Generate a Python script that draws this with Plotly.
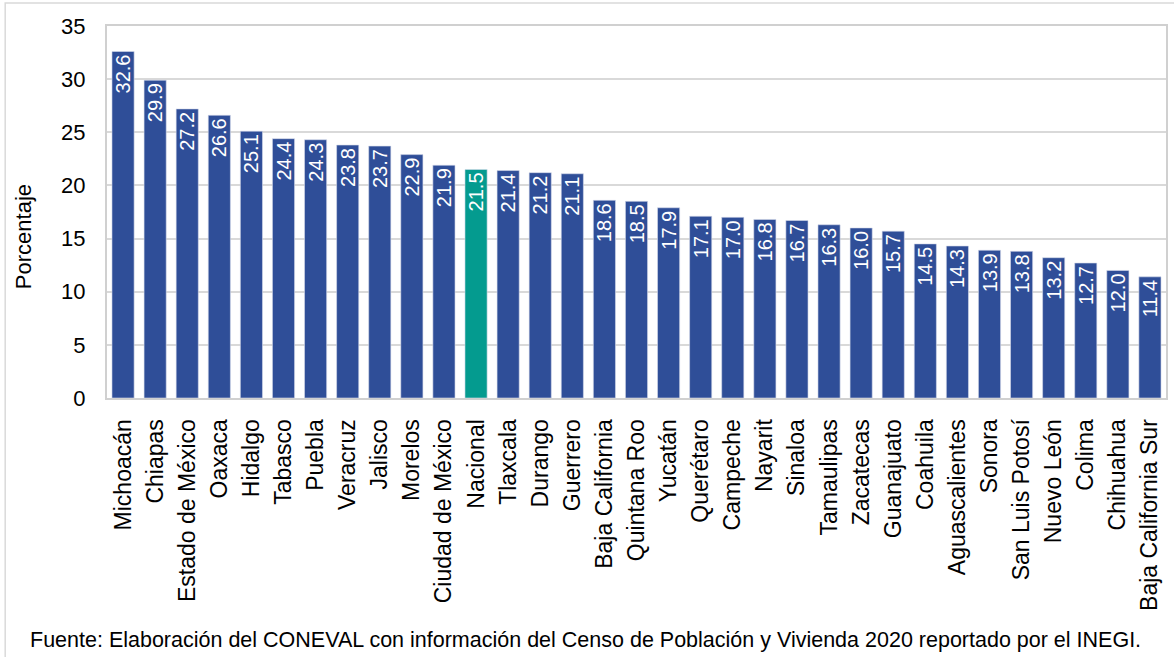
import plotly.graph_objects as go

categorias = ["Michoacán", "Chiapas", "Estado de México", "Oaxaca", "Hidalgo", "Tabasco",
              "Puebla", "Veracruz", "Jalisco", "Morelos", "Ciudad de México", "Nacional",
              "Tlaxcala", "Durango", "Guerrero", "Baja California", "Quintana Roo", "Yucatán",
              "Querétaro", "Campeche", "Nayarit", "Sinaloa", "Tamaulipas", "Zacatecas",
              "Guanajuato", "Coahuila", "Aguascalientes", "Sonora", "San Luis Potosí",
              "Nuevo León", "Colima", "Chihuahua", "Baja California Sur"]
valores = [32.6, 29.9, 27.2, 26.6, 25.1, 24.4, 24.3, 23.8, 23.7, 22.9, 21.9, 21.5,
           21.4, 21.2, 21.1, 18.6, 18.5, 17.9, 17.1, 17.0, 16.8, 16.7, 16.3, 16.0,
           15.7, 14.5, 14.3, 13.9, 13.8, 13.2, 12.7, 12.0, 11.4]

AZUL = "#2F4E98"
VERDE = "#049B8F"
colores = [VERDE if c == "Nacional" else AZUL for c in categorias]
FONT = "Liberation Sans, Arial, sans-serif"

fig = go.Figure(go.Bar(
    x=categorias, y=valores,
    marker=dict(color=colores, line=dict(color="#D6DCEB", width=0.6)),
    text=[f"{v:.1f}" for v in valores],
    textposition="inside", insidetextanchor="end", textangle=-90,
    textfont=dict(color="white", size=20, family=FONT),
    constraintext="none",
    cliponaxis=False,
))

fig.update_layout(
    width=1174, height=657,
    margin=dict(l=107, r=6, t=26, b=259),
    paper_bgcolor="white", plot_bgcolor="white",
    bargap=0.31,
    showlegend=False,
    font=dict(family=FONT, color="#000000", size=22),
)
fig.update_yaxes(
    range=[0, 35], dtick=5, tick0=0,
    showgrid=True, gridcolor="#D9D9D9", gridwidth=1.5,
    showline=True, linecolor="#D0D0D0", linewidth=2, mirror=True,
    ticks="", ticklabelstandoff=15,
    tickfont=dict(size=22),
    zeroline=False,
)
fig.update_xaxes(
    showline=True, linecolor="#D0D0D0", linewidth=2, mirror=True,
    tickangle=-90, tickfont=dict(size=23), ticks="", ticklabelstandoff=10,
)

# outer frame
fig.add_shape(type="rect", xref="paper", yref="paper",
              x0=(5 - 107) / 1061, x1=(1180 - 107) / 1061,
              y0=-(660 - 398) / 372, y1=1 + (26 - 3) / 372,
              line=dict(color="#D9D9D9", width=1.5), layer="below")

# y-axis title
fig.add_annotation(
    text="Porcentaje", textangle=-90,
    xref="paper", yref="paper", x=(24 - 107) / 1061, y=(398 - 237) / 372,
    xanchor="center", yanchor="middle", showarrow=False,
    font=dict(size=22, color="#000000"),
)

fig.add_annotation(
    text="Fuente: Elaboración del CONEVAL con información del Censo de Población y Vivienda 2020 reportado por el INEGI.",
    xref="paper", yref="paper", x=(586 - 107) / 1061, y=-(640 - 398) / 372,
    xanchor="center", yanchor="middle", showarrow=False,
    font=dict(size=21.5, color="#000000"),
)

fig.write_html("out.html", config={"displayModeBar": False},
               post_script="document.body.style.margin='0';")
